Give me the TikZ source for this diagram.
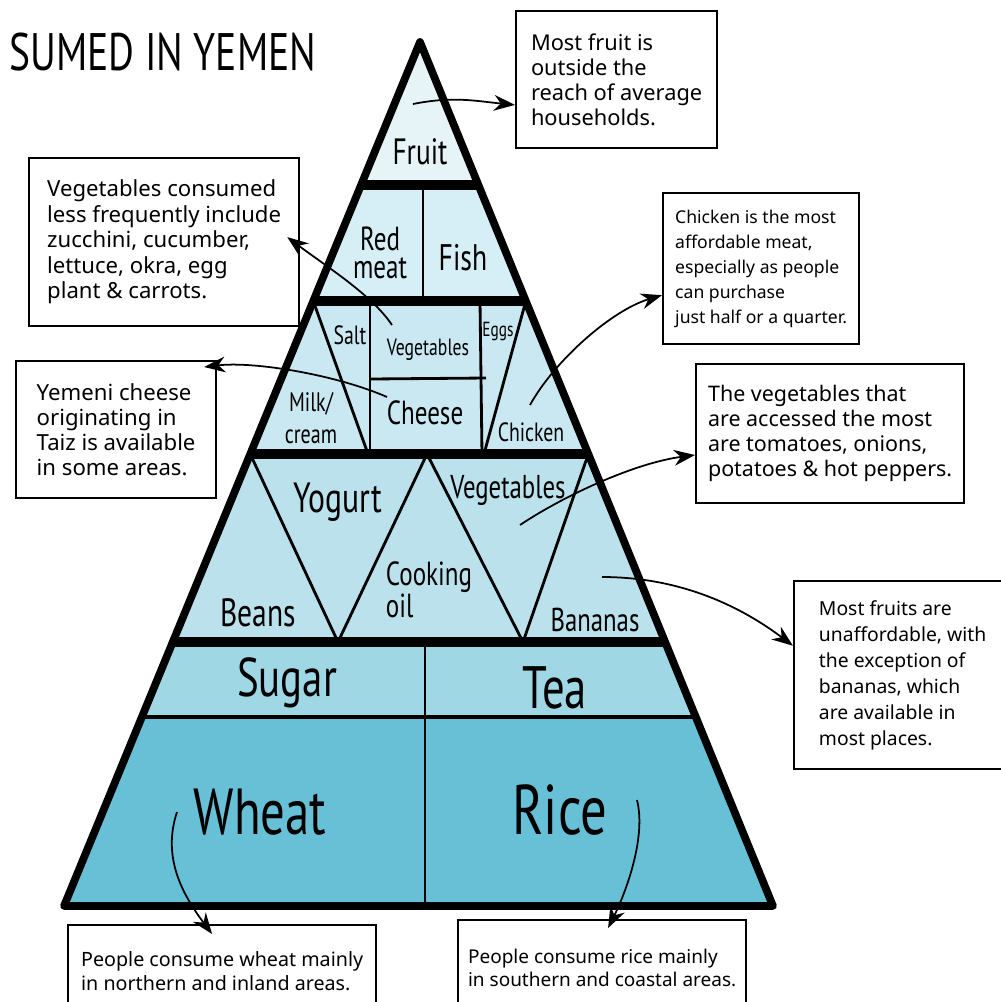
\documentclass[tikz,border=0pt]{standalone}
\usepackage{fontspec}
\setmainfont{Noto Sans}
\newfontfamily\handfont[FakeStretch=0.75]{PT Sans}
\usetikzlibrary{calc, arrows.meta}

\definecolor{fruitblue}{HTML}{E6F4F8}
\definecolor{meatblue}{HTML}{D6EEF5}
\definecolor{dairyblue}{HTML}{C9E8F1}
\definecolor{oilblue}{HTML}{BBE2EC}
\definecolor{sugarblue}{HTML}{A0D7E5}
\definecolor{grainblue}{HTML}{67C0D6}

\newcommand{\hand}[2]{\handfont\fontsize{#1}{#2}\selectfont}
\newcommand{\note}[2]{\fontsize{#1}{#2}\selectfont}

\tikzstyle{callout} = [rectangle, draw=black, line width=0.6pt, align=left, anchor=north west, inner sep=0pt]
\tikzstyle{food} = [inner sep=0pt, align=center]
\tikzstyle{pointer} = [line width=0.5pt, -{Stealth[length=6pt,width=4.5pt]}]
\tikzstyle{band} = [line width=2.8pt]
\tikzstyle{divider} = [line width=0.8pt]

\begin{document}
\begin{tikzpicture}[x=0.01cm, y=-0.01cm]
        \useasboundingbox (0,0) rectangle (1001,1002);

        % pyramid frame
        \coordinate (apex) at (420,42);
        \coordinate (baseL) at (64,906);
        \coordinate (baseR) at (773,906);
        \foreach \n/\t in {1/0.1655, 2/0.2998, 3/0.4769, 4/0.6944, 5/0.7813} {
            \coordinate (L\n) at ($(apex)!\t!(baseL)$);
            \coordinate (R\n) at ($(apex)!\t!(baseR)$);
        }

        \fill[fruitblue] (apex) -- (R1) -- (L1) -- cycle;
        \foreach \a/\b/\c in {1/2/meatblue, 2/3/dairyblue, 3/4/oilblue, 4/5/sugarblue}
            \fill[\c] (L\a) -- (R\a) -- (R\b) -- (L\b) -- cycle;
        \fill[grainblue] (L5) -- (R5) -- (baseR) -- (baseL) -- cycle;

        % cells
        \draw[divider] (423,185) -- (423,301);
        \draw[divider] (L2) -- (368,454);
        \draw[divider] (370,301) -- (370,454);
        \draw[divider] (370,379) -- (486,378);
        \draw[divider] (480,301) -- (482,454);
        \draw[divider] (R2) -- (484,454);
        \draw[divider] (L3) -- (338,642) -- (427,454) -- (523,642) -- (R3);
        \draw[divider] (425,642) -- (425,906);
        \draw[line width=1pt] (L5) -- (R5);
        \foreach \n in {1,...,4}
            \draw[band] (L\n) -- (R\n);
        \draw[line width=2.2pt, line join=round] (apex) -- (baseR) -- (baseL) -- cycle;

        % labels
        \node (title) [anchor=west, font=\hand{15}{15}] at (-3,52) {SUMED IN YEMEN};
        \node (fruit) [food, font=\hand{10.4}{11}] at (420,152) {Fruit};
        \node (redmeat) [food, font=\hand{9.5}{8}] at (380,253) {Red\\meat};
        \node (fish) [food, font=\hand{10.5}{11}] at (463,258) {Fish};
        \node (salt) [food, font=\hand{7.5}{8}] at (350,335) {Salt};
        \node (vegsmall) [food, font=\hand{6.7}{7}] at (428,350) {Vegetables};
        \node (eggs) [food, font=\hand{5.8}{6}] at (498,332) {Eggs};
        \node (milk) [food, font=\hand{7.6}{9}] at (311,418) {Milk/\\cream};
        \node (cheese) [food, font=\hand{9.5}{10}] at (425,413) {Cheese};
        \node (chicken) [food, font=\hand{7.5}{8}] at (531,432) {Chicken};
        \node (yogurt) [food, font=\hand{12}{12}] at (338,502) {Yogurt};
        \node (vegbig) [food, font=\hand{9.4}{10}] at (508,490) {Vegetables};
        \node (oil) [food, align=left, font=\hand{9.5}{9}] at (429,590) {Cooking\\oil};
        \node (beans) [food, font=\hand{11.2}{12}] at (258,613) {Beans};
        \node (bananas) [food, font=\hand{9.4}{10}] at (595,620) {Bananas};
        \node (sugar) [food, font=\hand{15.5}{16}] at (287,683) {Sugar};
        \node (tea) [food, font=\hand{17}{17}] at (555,688) {Tea};
        \node (wheat) [food, font=\hand{18.5}{19}] at (260,812) {Wheat};
        \node (rice) [food, font=\hand{20}{20}] at (560,810) {Rice};

        % notes
        \node (fruitbox) [callout, minimum width=2.01cm, minimum height=1.37cm, font=\note{6.2}{7.1}] at (515,10)
            {Most fruit is\\outside the\\reach of average\\households.};
        \node (veglessbox) [callout, minimum width=2.70cm, minimum height=1.68cm, font=\note{6.3}{7.25}] at (28,157)
            {Vegetables consumed\\less frequently include\\zucchini, cucumber,\\lettuce, okra, egg\\plant \& carrots.};
        \node (cheesebox) [callout, minimum width=2.00cm, minimum height=1.37cm, font=\note{6.3}{7.1}] at (15,360)
            {Yemeni cheese\\originating in\\Taiz is available\\in some areas.};
        \node (chickenbox) [callout, minimum width=1.96cm, minimum height=1.51cm, font=\note{5.0}{7.1}] at (662,192)
            {Chicken is the most\\affordable meat,\\especially as people\\can purchase\\just half or a quarter.};
        \node (vegmostbox) [callout, minimum width=2.68cm, minimum height=1.39cm, font=\note{6.1}{7.1}] at (695,363)
            {The vegetables that\\are accessed the most\\are tomatoes, onions,\\potatoes \& hot peppers.};
        \node (bananabox) [callout, minimum width=2.17cm, minimum height=1.88cm, font=\note{5.5}{7.4}] at (793,580)
            {Most fruits are\\unaffordable, with\\the exception of\\bananas, which\\are available in\\most places.};
        \node (wheatbox) [callout, minimum width=3.08cm, minimum height=0.92cm, font=\note{5.6}{6.8}] at (67,924)
            {People consume wheat mainly\\in northern and inland areas.};
        \node (ricebox) [callout, minimum width=2.88cm, minimum height=0.96cm, font=\note{5.4}{6.5}] at (457,919)
            {People consume rice mainly\\in southern and coastal areas.};

        % pointers
        \coordinate (fruitdot) at (413,104);
        \coordinate (vegsmalldot) at (392,325);
        \coordinate (cheesedot) at (387,397);
        \coordinate (chickendot) at (530,405);
        \coordinate (vegbigdot) at (520,525);
        \coordinate (bananadot) at (602,577);
        \coordinate (wheatdot) at (177,812);
        \coordinate (ricedot) at (637,800);

        \draw[pointer] (fruitdot) .. controls +(40,-8) and +(-40,-4) .. (fruitbox.194);
        \draw[pointer] (vegsmalldot) .. controls +(-20,-30) and +(40,30) .. ([xshift=-0.13cm, yshift=0.05cm]veglessbox.east);
        \draw[pointer] (cheesedot) .. controls +(-50,-22) and +(50,-6) .. ([xshift=-0.13cm, yshift=-0.07cm]cheesebox.north east);
        \draw[pointer] (chickendot) .. controls +(25,-45) and +(-50,15) .. (chickenbox.195);
        \draw[pointer] (vegbigdot) .. controls +(45,-30) and +(-60,8) .. (vegmostbox.189);
        \draw[pointer] (bananadot) .. controls +(90,0) and +(-40,-30) .. (bananabox.165);
        \draw[pointer] (wheatdot) .. controls +(-15,45) and +(-30,-40) .. ([xshift=1.45cm, yshift=-0.1cm]wheatbox.north west);
        \draw[pointer] (ricedot) .. controls +(10,40) and +(15,-30) .. ([xshift=1.51cm, yshift=-0.09cm]ricebox.north west);

    \end{tikzpicture}
\end{document}
